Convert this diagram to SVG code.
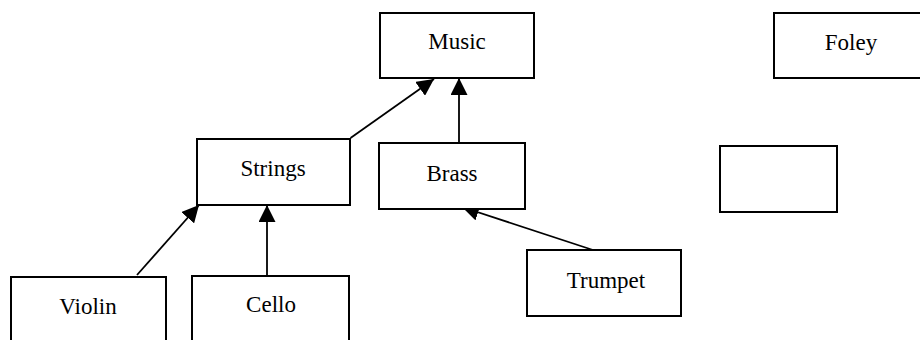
<svg xmlns="http://www.w3.org/2000/svg" width="920" height="340" viewBox="0 0 920 340">
<style>
.box{fill:#fff;stroke:#000;stroke-width:2}
.lbl{font-family:"Liberation Serif","Times New Roman",serif;font-size:23px;fill:#000;text-anchor:middle}
.edge{stroke:#000;stroke-width:1.8;fill:none;marker-end:url(#arr)}
</style>
<defs>
<marker id="arr" viewBox="0 0 17 17" refX="17" refY="8.5" markerWidth="17" markerHeight="17" markerUnits="userSpaceOnUse" orient="auto">
<path d="M0,0 L17,8.5 L0,17 Z" fill="#000"/>
</marker>
</defs>
<rect width="920" height="340" fill="#fff"/>
<g id="connectors">
<line class="edge" x1="350.5" y1="138" x2="434" y2="79"/>
<line class="edge" x1="459" y1="143" x2="459" y2="78"/>
<line class="edge" x1="137" y1="275" x2="199" y2="205"/>
<line class="edge" x1="267" y1="276" x2="267" y2="205"/>
<line class="edge" x1="593" y1="250" x2="462" y2="207"/>
</g>
<g id="music"><rect class="box" x="380" y="13" width="154" height="65"/><text class="lbl" x="457" y="49">Music</text></g>
<g id="foley"><rect class="box" x="774" y="13" width="160" height="65"/><text class="lbl" x="851" y="50">Foley</text></g>
<g id="strings"><rect class="box" x="197" y="139" width="153" height="66"/><text class="lbl" x="273" y="176">Strings</text></g>
<g id="brass"><rect class="box" x="379" y="143" width="146" height="66"/><text class="lbl" x="452" y="181">Brass</text></g>
<g id="empty"><rect class="box" x="720" y="146" width="117" height="66"/></g>
<g id="trumpet"><rect class="box" x="527" y="250" width="154" height="66"/><text class="lbl" x="606" y="288">Trumpet</text></g>
<g id="violin"><rect class="box" x="11" y="277" width="155" height="80"/><text class="lbl" x="88" y="314">Violin</text></g>
<g id="cello"><rect class="box" x="192" y="276" width="157" height="80"/><text class="lbl" x="271" y="312">Cello</text></g>
</svg>
